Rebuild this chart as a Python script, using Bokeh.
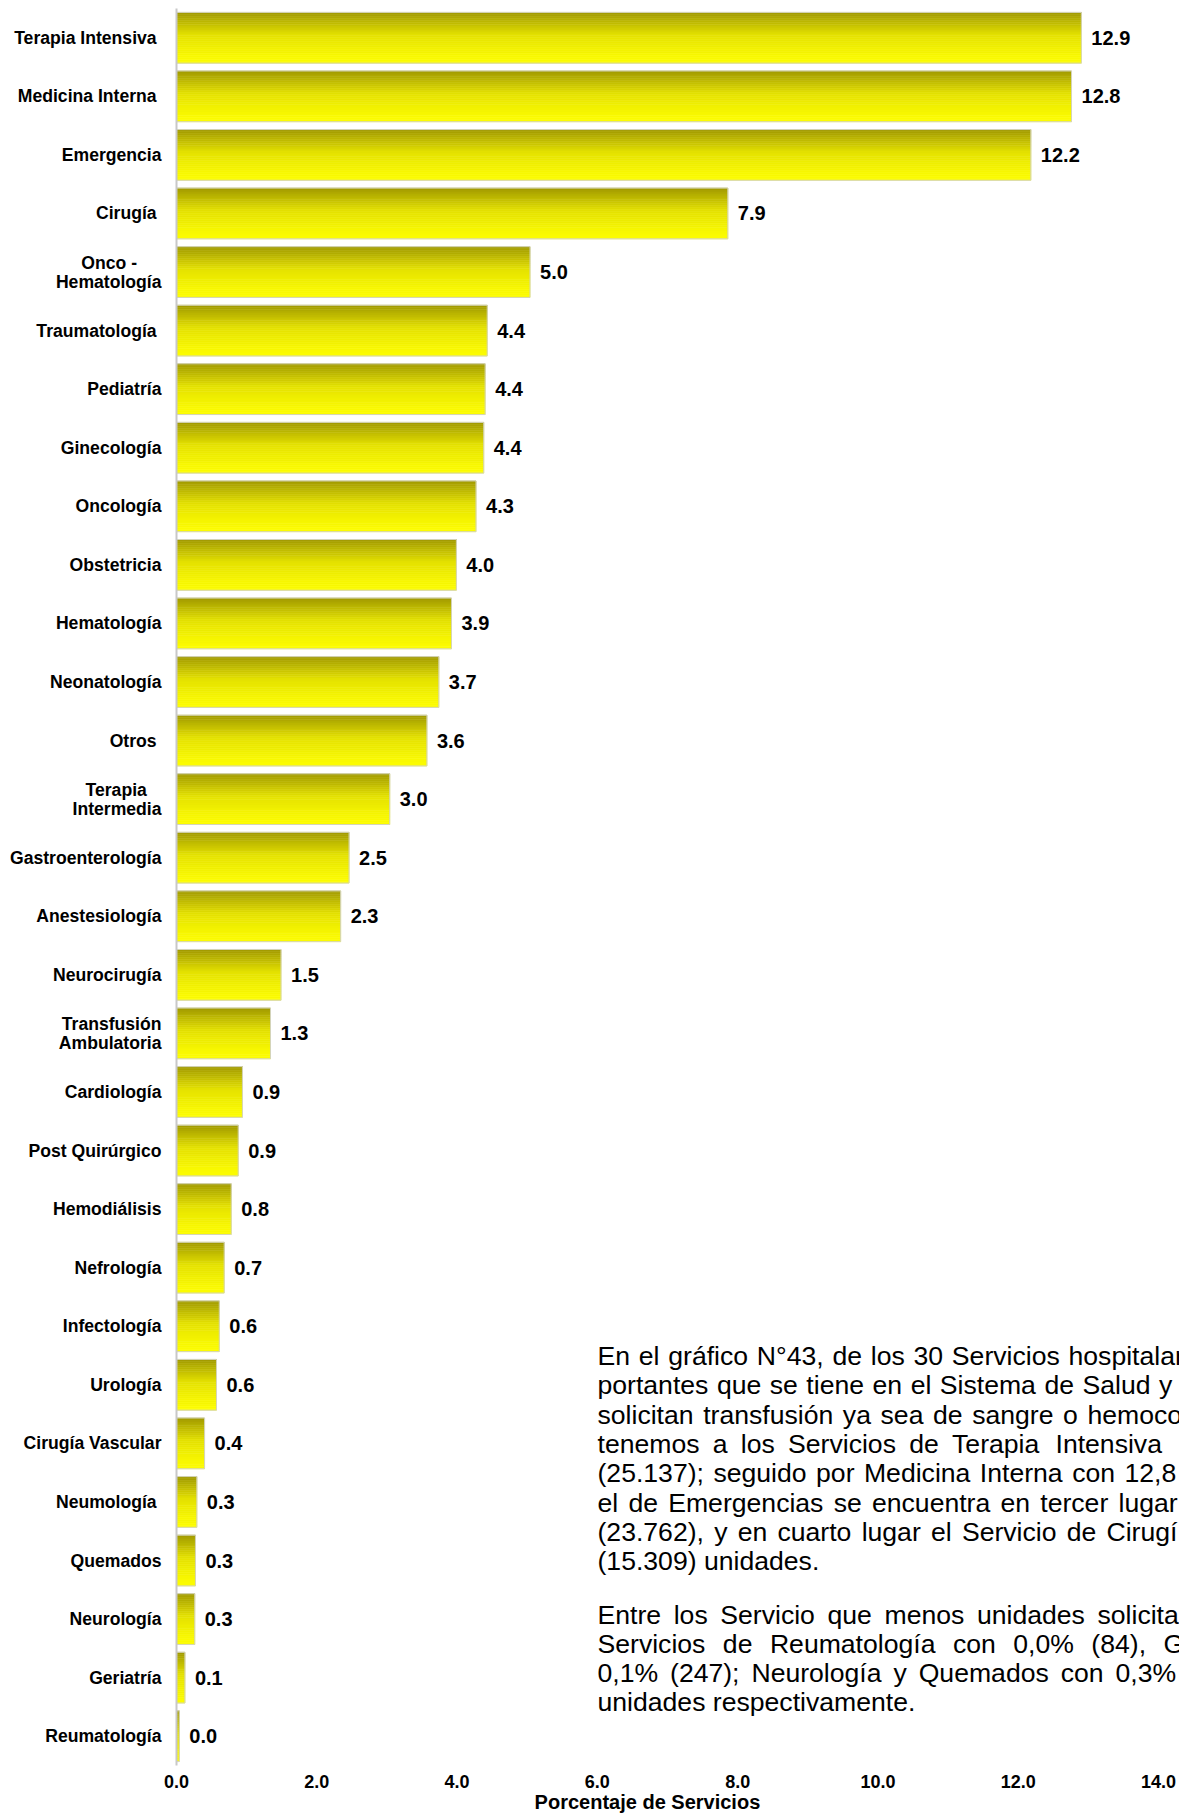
from bokeh.plotting import figure
from bokeh.models import Range1d, FixedTicker, Label, ColumnDataSource, PrintfTickFormatter
from bokeh.core.properties import value
from bokeh.embed import file_html
from bokeh.resources import INLINE

# ---------------- data ----------------
categories = [
    "Terapia Intensiva", "Medicina Interna", "Emergencia", "Cirugía",
    "Onco -\nHematología", "Traumatología", "Pediatría", "Ginecología",
    "Oncología", "Obstetricia", "Hematología", "Neonatología", "Otros",
    "Terapia\nIntermedia", "Gastroenterología", "Anestesiología",
    "Neurocirugía", "Transfusión\nAmbulatoria", "Cardiología",
    "Post Quirúrgico", "Hemodiálisis", "Nefrología", "Infectología",
    "Urología", "Cirugía Vascular", "Neumología", "Quemados",
    "Neurología", "Geriatría", "Reumatología",
]
values = [
    12.90, 12.76, 12.18, 7.86, 5.04, 4.43, 4.40, 4.38, 4.27, 3.99, 3.92,
    3.74, 3.57, 3.04, 2.46, 2.34, 1.49, 1.34, 0.94, 0.88, 0.78, 0.68,
    0.61, 0.57, 0.40, 0.29, 0.27, 0.26, 0.12, 0.04,
]
# labels that carry a trailing blank in the source chart
trailing_blank = {"Terapia Intensiva", "Medicina Interna", "Cirugía",
                  "Traumatología", "Otros", "Neumología"}
x_ticks = [0, 2, 4, 6, 8, 10, 12, 14]
x_title = "Porcentaje de Servicios"

paragraph_lines = [
    "En el gráfico N°43, de los 30 Servicios hospitalar",
    "portantes que se tiene en el Sistema de Salud y l",
    "solicitan transfusión ya sea de sangre o hemoco",
    "tenemos a los Servicios de Terapia Intensiva",
    "(25.137); seguido por Medicina Interna con 12,8",
    "el de Emergencias se encuentra en tercer lugar",
    "(23.762), y en cuarto lugar el Servicio de Cirugí",
    "(15.309) unidades.",
    "Entre los Servicio que menos unidades solicita",
    "Servicios de Reumatología con 0,0% (84), G",
    "0,1% (247); Neurología y Quemados con 0,3%",
    "unidades respectivamente.",
]

# ---------------- layout / style ----------------
W, H = 1179, 1817
BL, BR, BT, BB = 176, 0, 8, 52
FRAME_W = W - BL - BR
FRAME_H = H - BT - BB
TICK_MAX = 14
PPU = 982 / TICK_MAX          # pixels per percentage unit
X_END = FRAME_W / PPU         # frame reaches the right edge; 14.0 stays at 1158 px
N_CAT = len(categories)

FONT = "Liberation Sans"

def px_to_x(px):
    return (px - BL) / PPU

def px_to_y(py):
    return -0.5 + (py - BT) / FRAME_H * N_CAT

# Arial / Liberation Sans advance widths (1/1000 em)
REG = {' ': 278, '.': 278, ',': 278, ';': 278, ':': 278, '(': 333, ')': 333,
       '%': 889, '°': 400, '-': 333,
       'a': 556, 'b': 556, 'c': 500, 'd': 556, 'e': 556, 'f': 278, 'g': 556,
       'h': 556, 'i': 222, 'j': 222, 'k': 500, 'l': 222, 'm': 833, 'n': 556,
       'o': 556, 'p': 556, 'q': 556, 'r': 333, 's': 500, 't': 278, 'u': 556,
       'v': 500, 'w': 722, 'x': 500, 'y': 500, 'z': 500,
       'A': 667, 'B': 667, 'C': 722, 'D': 722, 'E': 667, 'F': 611, 'G': 778,
       'H': 722, 'I': 278, 'J': 500, 'K': 667, 'L': 556, 'M': 833, 'N': 722,
       'O': 778, 'P': 667, 'Q': 778, 'R': 722, 'S': 667, 'T': 611, 'U': 722,
       'V': 667, 'W': 944, 'X': 667, 'Y': 667, 'Z': 611,
       'á': 556, 'é': 556, 'í': 278, 'ó': 556, 'ú': 556, 'ñ': 556}
for d in "0123456789":
    REG[d] = 556

BOLD = {' ': 278, '-': 333, '\u00a0': 278,
        'a': 556, 'b': 611, 'c': 556, 'd': 611, 'e': 556, 'f': 333, 'g': 611,
        'h': 611, 'i': 278, 'l': 278, 'm': 889, 'n': 611, 'o': 611, 'p': 611,
        'r': 389, 's': 556, 't': 333, 'u': 611, 'í': 278, 'ó': 611,
        'A': 722, 'H': 722, 'I': 278, 'O': 778, 'T': 611}

def text_w(s, table, fs):
    return sum(table.get(c, 556) for c in s) * fs / 1000.0

LFS = 17.6  # category label size

def display_label(lab, fs=LFS):
    lines = lab.split("\n")
    if len(lines) == 1:
        return lab + ("\u00a0" if lab in trailing_blank else "")
    widest = max(text_w(l, BOLD, fs) for l in lines)
    out = []
    for l in lines:
        pad = int(round((widest - text_w(l, BOLD, fs)) / 2 / (278 * fs / 1000)))
        out.append(l + "\u00a0" * pad)
    return "\n".join(out)

display_labels = [display_label(c) for c in categories]

p = figure(width=W, height=H, output_backend="svg", toolbar_location=None,
           x_range=Range1d(0, X_END), y_range=Range1d(N_CAT - 0.5, -0.5),
           min_border_left=BL, min_border_right=BR, min_border_top=BT,
           min_border_bottom=BB)
if p.title is not None:
    p.title.visible = False
p.outline_line_color = None
p.xgrid.visible = False
p.ygrid.visible = False
p.background_fill_color = "white"
p.border_fill_color = "white"

# ---------------- bars with vertical gradient ----------------
ys = list(range(N_CAT))
BAR_H = 0.866
N_STRIPS = 26
stops = [(0.0, (160, 153, 0)), (0.45, (228, 225, 0)), (0.8, (246, 245, 0)), (1.0, (253, 253, 0))]

def grad(t):
    for (t0, c0), (t1, c1) in zip(stops[:-1], stops[1:]):
        if t0 <= t <= t1:
            f = (t - t0) / (t1 - t0)
            r, g, b = (int(round(a + (bb - a) * f)) for a, bb in zip(c0, c1))
            return "#%02x%02x%02x" % (r, g, b)
    return "#%02x%02x%02x" % stops[-1][1]

for k in range(N_STRIPS):
    t = (k + 0.5) / N_STRIPS
    col = grad(t)
    off = -BAR_H / 2 + (k + 0.5) * BAR_H / N_STRIPS
    p.hbar(y=[y + off for y in ys], left=0, right=values,
           height=BAR_H / N_STRIPS, fill_color=col, line_color=col, line_width=0.6)

p.hbar(y=ys, left=0, right=values, height=BAR_H, fill_alpha=0,
       line_color="#d4d4bc", line_width=1)

# value labels
src = ColumnDataSource(dict(x=values, y=ys, t=["%.1f" % v for v in values]))
p.text(x="x", y="y", text="t", source=src, x_offset=10, text_baseline="middle",
       text_align="left", text_font=value(FONT), text_font_style="bold",
       text_font_size="20px", text_color="#000000")

# ---------------- axes ----------------
yax = p.yaxis[0]
yax.ticker = FixedTicker(ticks=ys)
yax.major_label_overrides = {i: lab for i, lab in enumerate(display_labels)}
yax.major_label_text_font = FONT
yax.major_label_text_font_style = "bold"
yax.major_label_text_font_size = "%.1fpx" % LFS
yax.major_label_text_line_height = 0.95
yax.major_label_text_color = "#000000"
yax.major_label_standoff = 9
yax.major_tick_line_color = None
yax.minor_tick_line_color = None
yax.axis_line_color = "#c8c8c8"
yax.axis_line_width = 2

xax = p.xaxis[0]
xax.ticker = FixedTicker(ticks=x_ticks)
xax.formatter = PrintfTickFormatter(format="%.1f")
xax.axis_line_color = None
xax.major_tick_line_color = None
xax.minor_tick_line_color = None
xax.major_tick_out = 0
xax.major_label_standoff = 9
xax.major_label_text_font = FONT
xax.major_label_text_font_style = "bold"
xax.major_label_text_font_size = "18px"
xax.major_label_text_color = "#000000"
# title is centred ~30 px left of the frame centre in the reference
xax.axis_label = x_title + "\u00a0" * 11
xax.axis_label_standoff = 0
xax.axis_label_text_font = FONT
xax.axis_label_text_font_style = "bold"
xax.axis_label_text_font_size = "20px"
xax.axis_label_text_color = "#000000"

# ---------------- justified paragraph (per-word placement) ----------------
PFS = 26.6
PX0 = 597
baselines = [1355.6 + k * 29.3 for k in range(8)] + [1614 + k * 29.3 for k in range(4)]
# (index of anchor word, its measured left edge) for justified lines
anchors = [(8, 1068), (8, 1082), (7, 1087), (6, 1055), (6, 1124), (7, 1118),
           (8, 1106), None, (6, 1097), (6, 1163), (6, 1115), None]

for line, base, anc in zip(paragraph_lines, baselines, anchors):
    words = line.split(" ")
    widths = [text_w(w, REG, PFS) for w in words]
    space = REG[' '] * PFS / 1000.0
    if anc is not None:
        j, X = anc
        space = (X - PX0 - sum(widths[:j])) / j
    x = PX0
    for w, ww in zip(words, widths):
        p.add_layout(Label(x=px_to_x(x), y=px_to_y(base), text=w,
                           text_align="left", text_baseline="alphabetic",
                           text_font=FONT, text_font_size="%.1fpx" % PFS,
                           text_color="#000000"))
        x += ww + space

open("out.html", "w").write(file_html(p, INLINE))
